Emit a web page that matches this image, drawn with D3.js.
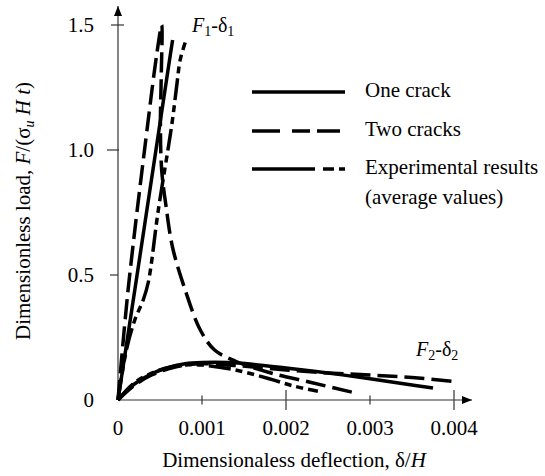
<!DOCTYPE html>
<html><head><meta charset="utf-8">
<script src="https://cdn.jsdelivr.net/npm/d3@7"></script>
<style>body{margin:0;background:#fff}svg{display:block}</style>
</head><body>
<svg id="c" width="545" height="476"></svg>
<script>
// ---- data (delta/H, F/(sigma_u H t)) ----
const xTicks = [0, 0.001, 0.002, 0.003, 0.004];
const xTickLabels = ["0", "0.001", "0.002", "0.003", "0.004"];
const yTicks = [0, 0.5, 1.0, 1.5];
const yTickLabels = ["0", "0.5", "1.0", "1.5"];
const legendLabels = ["One crack", "Two cracks", "Experimental results", "(average values)"];

// F1-delta1 curves
const oneCrackF1 = [[0,0],[0.0002,0.44],[0.0004,0.885],[0.0006,1.33],[0.00065,1.44]];
const twoCracksF1 = [[0,0],[0.00012,0.44],[0.00036,1.12],[0.00046,1.38],[0.00052,1.5],
  [0.000515,1.3],[0.000505,1.1],[0.00052,0.92],[0.00057,0.78],[0.00065,0.61],[0.0008,0.44],
  [0.00098,0.28],[0.00115,0.2],[0.0014,0.155],[0.0018,0.11],[0.0023,0.07],[0.0028,0.03]];
const expF1 = [[0,0],[0.0001,0.2],[0.0002,0.32],[0.0003,0.4],[0.00036,0.47],[0.00048,0.76],
  [0.00064,1.1],[0.0007,1.26],[0.00074,1.36],[0.0008,1.43]];

// F2-delta2 curves
const oneCrackF2 = [[0,0],[0.0001,0.035],[0.0002,0.065],[0.0004,0.105],[0.0006,0.13],
  [0.0008,0.145],[0.001,0.15],[0.0013,0.15],[0.0016,0.143],[0.002,0.128],[0.0025,0.108],
  [0.003,0.085],[0.0034,0.065],[0.00375,0.048]];
const twoCracksF2 = [[0,0],[0.0002,0.06],[0.0004,0.1],[0.0006,0.125],[0.0008,0.14],
  [0.001,0.145],[0.0014,0.138],[0.002,0.12],[0.0025,0.108],[0.003,0.1],[0.0035,0.09],[0.004,0.074]];
const expF2 = [[0,0],[0.0002,0.07],[0.0005,0.12],[0.0008,0.14],[0.001,0.14],[0.0014,0.12],
  [0.0018,0.085],[0.0021,0.055],[0.00238,0.035]];

const font = "'Liberation Serif','Times New Roman',Times,serif";
const svg = d3.select("#c").style("font-family", font);
const x = d3.scaleLinear().domain([0, 0.004]).range([118, 454]);
const y = d3.scaleLinear().domain([0, 1.5]).range([400, 25]);
const axisColor = "#333";
const FS = 21;

const styles = {
  one: {dash: null},
  two: {dash: "20,7"},
  exp: {dash: "22,5,7,5,7,5"}
};

svg.append("defs").append("marker").attr("id","arr").attr("viewBox","0 0 10 10")
  .attr("refX",10).attr("refY",5).attr("markerWidth",10).attr("markerHeight",10)
  .attr("markerUnits","userSpaceOnUse").attr("orient","auto")
  .append("path").attr("d","M0,1 L10,5 L0,9 Z").attr("fill","#000");
svg.append("line").attr("x1",x(0)).attr("y1",y(0)).attr("x2",x(0)).attr("y2",6)
  .attr("stroke",axisColor).attr("stroke-width",1.2).attr("marker-end","url(#arr)");
svg.append("line").attr("x1",x(0)).attr("y1",y(0)).attr("x2",472).attr("y2",y(0))
  .attr("stroke",axisColor).attr("stroke-width",1.2).attr("marker-end","url(#arr)");

const xTickLen = [0, 4.5, 10, 4.5, 10];
xTicks.forEach((t,i) => {
  if (i > 0) svg.append("line").attr("x1",x(t)).attr("x2",x(t))
    .attr("y1",y(0)-xTickLen[i]).attr("y2",y(0)+xTickLen[i]).attr("stroke",axisColor).attr("stroke-width",1.2);
  svg.append("text").attr("x",x(t)).attr("y",435).attr("text-anchor","middle")
    .attr("font-size",FS).text(xTickLabels[i]);
});
const yTickSpan = [[0,0],[-8,0],[-11,1],[-7,6]];
yTicks.forEach((t,i) => {
  if (i > 0) svg.append("line").attr("x1",x(0)+yTickSpan[i][0]).attr("x2",x(0)+yTickSpan[i][1])
    .attr("y1",y(t)).attr("y2",y(t)).attr("stroke",axisColor).attr("stroke-width",1.2);
  svg.append("text").attr("x",94).attr("y",y(t)+7).attr("text-anchor","end")
    .attr("font-size",FS).text(yTickLabels[i]);
});

const xt = svg.append("text").attr("x",294).attr("y",467).attr("text-anchor","middle")
  .attr("font-size",FS);
xt.append("tspan").text("Dimensionaless deflection, δ/");
xt.append("tspan").attr("font-style","italic").text("H");

const yt = svg.append("text").attr("transform","translate(30,211) rotate(-90)")
  .attr("text-anchor","middle").attr("font-size",FS);
yt.append("tspan").text("Dimensionless load, ");
yt.append("tspan").attr("font-style","italic").text("F");
yt.append("tspan").text("/(σ");
yt.append("tspan").attr("font-style","italic").attr("font-size",14).attr("dy",4).text("u");
yt.append("tspan").attr("dy",-4).text(" ");
yt.append("tspan").attr("font-style","italic").text("H t");
yt.append("tspan").text(")");

const line = d3.line().x(d => x(d[0])).y(d => y(d[1])).curve(d3.curveCatmullRom.alpha(0.5));
const series = [
  [oneCrackF2, "one"], [twoCracksF2, "two"], [expF2, "exp"],
  [oneCrackF1, "one"], [expF1, "exp"], [twoCracksF1, "two"]
];
series.forEach(([data, s]) => {
  svg.append("path").attr("d", line(data)).attr("fill","none").attr("stroke","#000")
    .attr("stroke-width",3.5).attr("stroke-linejoin","round")
    .attr("stroke-dasharray", styles[s].dash);
});

const lg = [
  {y:92, dash:null, label:legendLabels[0]},
  {y:131, dash:"28,12,18,7,23", label:legendLabels[1]},
  {y:169, dash:"63,8,11,5,8", label:legendLabels[2]}
];
lg.forEach(d => {
  svg.append("line").attr("x1",252).attr("x2",345).attr("y1",d.y).attr("y2",d.y)
    .attr("stroke","#000").attr("stroke-width",3.6).attr("stroke-dasharray",d.dash);
  svg.append("text").attr("x",365).attr("y",d.y+5).attr("font-size",FS).text(d.label);
});
svg.append("text").attr("x",365).attr("y",204).attr("font-size",FS).text(legendLabels[3]);

function curveLabel(px, py, n) {
  const t = svg.append("text").attr("x",px).attr("y",py).attr("font-size",20);
  t.append("tspan").attr("font-style","italic").text("F");
  t.append("tspan").attr("font-size",14).attr("dy",4).text(n);
  t.append("tspan").attr("dy",-4).text("-");
  t.append("tspan").text("δ");
  t.append("tspan").attr("font-size",14).attr("dy",4).text(n);
}
curveLabel(192, 32, "1");
curveLabel(416, 356, "2");
</script>
</body></html>
